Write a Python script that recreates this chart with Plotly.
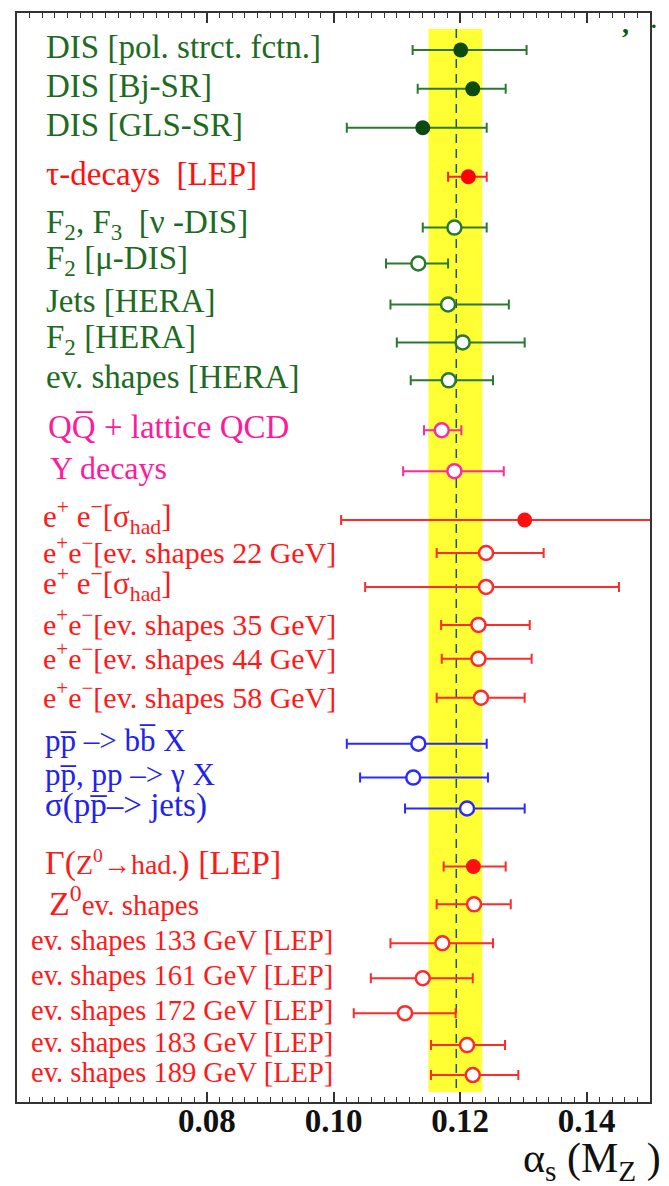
import plotly.graph_objects as go

# ---- measurements of alpha_s(M_Z) ----
labels = [
    "DIS [pol. strct. fctn.]",
    "DIS [Bj-SR]",
    "DIS [GLS-SR]",
    "τ-decays  [LEP]",
    "F<sub>2</sub>, F<sub>3</sub>  [ν -DIS]",
    "F<sub>2</sub> [μ-DIS]",
    "Jets [HERA]",
    "F<sub>2</sub> [HERA]",
    "ev. shapes [HERA]",
    "QQ\u0305 + lattice QCD",
    "Y decays",
    "e<sup>+</sup> e<sup>−</sup>[σ<sub>had</sub>]",
    "e<sup>+</sup>e<sup>−</sup>[ev. shapes 22 GeV]",
    "e<sup>+</sup> e<sup>−</sup>[σ<sub>had</sub>]",
    "e<sup>+</sup>e<sup>−</sup>[ev. shapes 35 GeV]",
    "e<sup>+</sup>e<sup>−</sup>[ev. shapes 44 GeV]",
    "e<sup>+</sup>e<sup>−</sup>[ev. shapes 58 GeV]",
    "pp\u0305 –> bb\u0305 X",
    "pp\u0305, pp –> γ X",
    "σ(pp\u0305–> jets)",
    "Γ(<span style='font-size:28px'>Z<sup>0</sup>→had.</span>) [LEP]",
    "Z<sup>0</sup><span style='font-size:29px'>ev. shapes</span>",
    "ev. shapes 133 GeV [LEP]",
    "ev. shapes 161 GeV [LEP]",
    "ev. shapes 172 GeV [LEP]",
    "ev. shapes 183 GeV [LEP]",
    "ev. shapes 189 GeV [LEP]",
]
alpha_s = [0.1201, 0.1220, 0.1141, 0.1213, 0.1191, 0.1134, 0.1181, 0.1204, 0.1182,
           0.1171, 0.1191, 0.1302, 0.1241, 0.1241, 0.1229, 0.1229, 0.1233,
           0.1134, 0.1126, 0.1211, 0.1221, 0.1222, 0.1172, 0.1141, 0.1113, 0.1211, 0.1220]
alpha_lo = [0.1125, 0.1133, 0.1021, 0.1181, 0.1141, 0.1083, 0.1090, 0.1100, 0.1122,
            0.1143, 0.1110, 0.1012, 0.1163, 0.1050, 0.1170, 0.1171, 0.1163,
            0.1021, 0.1042, 0.1113, 0.1174, 0.1163, 0.1090, 0.1059, 0.1032, 0.1154, 0.1154]
alpha_hi = [0.1305, 0.1272, 0.1242, 0.1242, 0.1242, 0.1181, 0.1277, 0.1302, 0.1252,
            0.1202, 0.1269, 0.1600, 0.1332, 0.1451, 0.1310, 0.1313, 0.1302,
            0.1242, 0.1244, 0.1302, 0.1272, 0.1280, 0.1252, 0.1220, 0.1193, 0.1271, 0.1292]
groups = ["dis", "dis", "dis", "tau", "dis", "dis", "dis", "dis", "dis",
          "onium", "onium", "ee", "ee", "ee", "ee", "ee", "ee",
          "had", "had", "had", "ee", "ee", "ee", "ee", "ee", "ee", "ee"]
filled = [True, True, True, True, False, False, False, False, False,
          False, False, True, False, False, False, False, False,
          False, False, False, True, False, False, False, False, False, False]

world_avg = 0.1194
band_lo, band_hi = 0.1150, 0.1235

axis_range = [0.05, 0.15]
labelled_ticks = [0.08, 0.10, 0.12, 0.14]
labelled_text = ["0.08", "0.10", "0.12", "0.14"]

# ---- layout helpers ----
W, H = 669, 1186
L, R, T, B = 17, 650, 11, 1102

def px_to_paper(px):
    return (px - L) / (R - L)

row_y = [48, 87, 126, 175, 226, 262, 303, 341, 379, 429, 470, 519, 552, 586,
         624, 658, 697, 743, 777, 808, 866, 904, 943, 978, 1013, 1045, 1075]
label_x = [44, 44, 44, 44, 44, 44, 44, 44, 44, 46, 48, 41, 41, 41, 41, 41, 41,
           43, 43, 43, 43, 47, 29, 29, 29, 29, 29]
label_size = [33, 33, 33, 33, 33, 33, 33, 33, 33, 33, 32, 31, 30, 31, 30, 30, 30,
              31, 31, 33, 34, 34, 28.5, 28.5, 28.5, 28.5, 28.5]

palette = {
    "dis":   dict(text="#1d6b22", line="#2a7a2e", mark="#0c4a10"),
    "tau":   dict(text="#ff1010", line="#ff2020", mark="#ff0000"),
    "onium": dict(text="#ff1a9a", line="#ff2aa0", mark="#ff1a9a"),
    "ee":    dict(text="#ff1a1a", line="#ff2a2a", mark="#ff1010"),
    "had":   dict(text="#2222ee", line="#2a2aff", mark="#2a2aff"),
}

fig = go.Figure()

for i in range(len(labels)):
    c = palette[groups[i]]
    v = alpha_s[i]
    fig.add_trace(go.Scatter(
        x=[v], y=[row_y[i]], mode="markers",
        marker=dict(
            size=15 if filled[i] else 14,
            color=c["mark"] if filled[i] else "white",
            line=dict(color=c["mark"] if filled[i] else c["line"], width=0 if filled[i] else 2.5),
        ),
        error_x=dict(type="data", symmetric=False,
                     array=[alpha_hi[i] - v], arrayminus=[v - alpha_lo[i]],
                     color=c["line"], thickness=2, width=5),
        showlegend=False, hoverinfo="skip",
    ))
    fig.add_annotation(
        x=px_to_paper(label_x[i]), xref="paper", xanchor="left",
        y=row_y[i] - 3, yref="y", yanchor="middle",
        text=labels[i], showarrow=False,
        font=dict(family="Liberation Serif", size=label_size[i], color=c["text"]),
    )

# world-average band and central value
fig.add_shape(type="rect", xref="x", yref="y", x0=band_lo, x1=band_hi, y0=27, y1=1092,
              fillcolor="#ffff33", line=dict(width=0), layer="below")
fig.add_shape(type="line", xref="x", yref="y", x0=world_avg, x1=world_avg, y0=27, y1=1092,
              line=dict(color="#1d5a1d", width=1.5, dash="9px,6px"), layer="below")

# axis title
fig.add_annotation(
    x=px_to_paper(663), xref="paper", xanchor="right",
    y=-(1189 - B) / (B - T), yref="paper", yanchor="bottom",
    text="α<sub>s</sub> (M<sub>Z</sub> )", showarrow=False,
    font=dict(family="Liberation Serif", size=42, color="#111111"),
)
# stray glyphs at the top right corner
fig.add_annotation(
    x=px_to_paper(620), xref="paper", xanchor="left", y=22, yref="y", yanchor="middle",
    text="<b>,</b>", showarrow=False,
    font=dict(family="Liberation Serif", size=28, color="#0c5a10"),
)
fig.add_annotation(
    x=px_to_paper(649), xref="paper", xanchor="left", y=19, yref="y", yanchor="middle",
    text="<b>.   .</b>", showarrow=False,
    font=dict(family="Liberation Serif", size=22, color="#0c5a10"),
)

tick_style = dict(ticks="inside", ticklen=10, tickwidth=1.5, tickcolor="#333333")

fig.update_layout(
    width=W, height=H,
    margin=dict(l=L, r=W - R, t=T, b=H - B, pad=0),
    paper_bgcolor="white", plot_bgcolor="white",
    xaxis=dict(
        range=axis_range, showgrid=False, zeroline=False,
        showline=True, linecolor="#333333", linewidth=2, mirror="allticks",
        tickvals=labelled_ticks, ticktext=labelled_text,
        tickfont=dict(family="Liberation Serif", size=33, color="#111111", weight="bold"),
        minor=dict(dtick=0.002, tick0=0.05, ticks="inside", ticklen=5, tickwidth=1.2,
                   tickcolor="#333333", showgrid=False),
        ticklabelstandoff=-12,
        **tick_style,
    ),
    # unlabelled ticks every 0.01 on the same scale
    xaxis2=dict(
        range=axis_range, overlaying="x", anchor="y", side="bottom",
        dtick=0.01, tick0=0.05, showticklabels=False, showgrid=False, zeroline=False,
        showline=False, mirror="allticks", **tick_style,
    ),
    yaxis=dict(
        range=[B, T], showgrid=False, zeroline=False, showticklabels=False,
        showline=True, linecolor="#333333", linewidth=2, mirror=True, ticks="",
    ),
)

fig.write_html("out.html")
